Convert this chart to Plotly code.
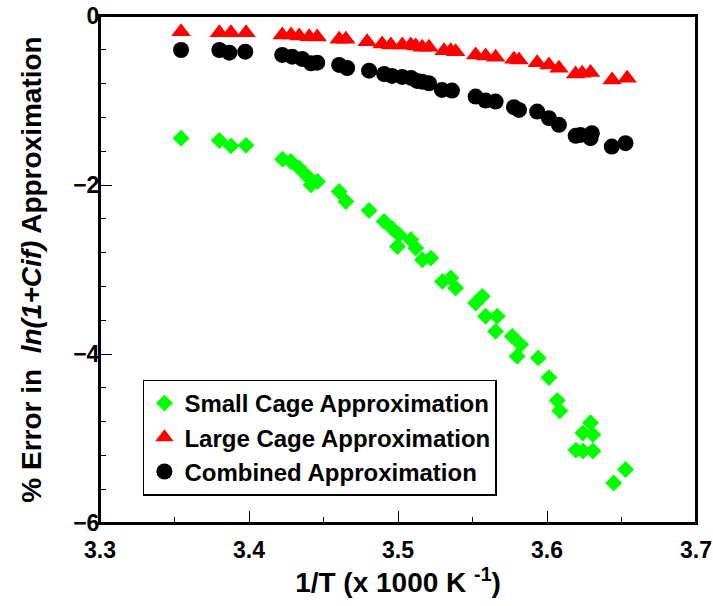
import plotly.graph_objects as go

# Small Cage Approximation (green diamonds)
small_x = [3.3544, 3.3801, 3.3879, 3.3980, 3.4225, 3.4281, 3.4337, 3.4393, 3.4416, 3.4460,
           3.4605, 3.4650, 3.4806, 3.4907, 3.4962, 3.5007, 3.4996, 3.5086, 3.5119, 3.5164,
           3.5220, 3.5298, 3.5354, 3.5387, 3.5521, 3.5566, 3.5588, 3.5666, 3.5655, 3.5767,
           3.5823, 3.5800, 3.5941, 3.6013, 3.6069, 3.6086, 3.6292, 3.6241, 3.6308, 3.6194,
           3.6241, 3.6308, 3.6527, 3.6448]
small_y = [-1.446, -1.474, -1.537, -1.531, -1.694, -1.722, -1.800, -1.900, -1.998, -1.959,
           -2.077, -2.195, -2.301, -2.431, -2.518, -2.589, -2.727, -2.648, -2.746, -2.884,
           -2.865, -3.141, -3.101, -3.219, -3.396, -3.318, -3.554, -3.554, -3.732, -3.791,
           -3.889, -4.027, -4.046, -4.279, -4.551, -4.673, -4.814, -4.935, -4.953, -5.137,
           -5.148, -5.148, -5.366, -5.526]

# Large Cage Approximation (red triangles)
large_x = [3.3544, 3.3801, 3.3879, 3.3980, 3.4223, 3.4282, 3.4337, 3.4404, 3.4458, 3.4605,
           3.4650, 3.4793, 3.4893, 3.4952, 3.5029, 3.5086, 3.5119, 3.5162, 3.5208, 3.5309,
           3.5354, 3.5387, 3.5521, 3.5588, 3.5655, 3.5778, 3.5812, 3.5934, 3.6013, 3.6080,
           3.6192, 3.6236, 3.6292, 3.6437, 3.6538]
large_y = [-0.186, -0.197, -0.197, -0.197, -0.225, -0.225, -0.236, -0.245, -0.248, -0.275,
           -0.275, -0.304, -0.331, -0.343, -0.343, -0.343, -0.355, -0.370, -0.370, -0.410,
           -0.410, -0.422, -0.461, -0.473, -0.488, -0.512, -0.520, -0.552, -0.579, -0.618,
           -0.686, -0.677, -0.670, -0.757, -0.736]

# Combined Approximation (black circles)
comb_x = [3.3544, 3.3801, 3.3868, 3.3975, 3.4223, 3.4290, 3.4357, 3.4416, 3.4458, 3.4605,
          3.4659, 3.4806, 3.4907, 3.4960, 3.5028, 3.5088, 3.5128, 3.5162, 3.5208, 3.5295,
          3.5362, 3.5521, 3.5588, 3.5655, 3.5778, 3.5812, 3.5934, 3.6013, 3.6080, 3.6192,
          3.6225, 3.6292, 3.6301, 3.6435, 3.6527]
comb_y = [-0.402, -0.402, -0.434, -0.422, -0.461, -0.481, -0.508, -0.559, -0.552, -0.579,
          -0.615, -0.647, -0.686, -0.709, -0.721, -0.733, -0.768, -0.777, -0.796, -0.875,
          -0.883, -0.954, -1.001, -1.013, -1.079, -1.111, -1.131, -1.209, -1.288, -1.418,
          -1.407, -1.446, -1.387, -1.545, -1.505]

series_names = ["Small Cage Approximation", "Large Cage Approximation", "Combined Approximation"]

FONT = "Liberation Sans, Arial, sans-serif"

fig = go.Figure()
fig.add_trace(go.Scatter(x=small_x, y=small_y, mode="markers", name=series_names[0],
                         marker=dict(symbol="diamond", size=13, color="#00FF00", line=dict(width=0))))
fig.add_trace(go.Scatter(x=large_x, y=large_y, mode="markers", name=series_names[1],
                         marker=dict(symbol="triangle-up", size=17, color="#FF0000", line=dict(width=0))))
fig.add_trace(go.Scatter(x=comb_x, y=comb_y, mode="markers", name=series_names[2],
                         marker=dict(symbol="circle", size=16, color="#000000", line=dict(width=0))))

# plot frame
fig.add_shape(type="rect", xref="paper", yref="paper", x0=0, x1=1, y0=0, y1=1,
              line=dict(color="black", width=2), layer="above")

fig.update_layout(
    template="none",
    width=713, height=606,
    margin=dict(l=100, r=17, t=16, b=83),
    paper_bgcolor="white", plot_bgcolor="white",
    font=dict(family=FONT, color="black", size=24, weight="bold"),
    showlegend=True,
    legend=dict(x=0.072, y=0.283, xanchor="left", yanchor="top",
                bgcolor="white", bordercolor="black", borderwidth=1.5,
                font=dict(family=FONT, size=24, color="black", weight="bold"),
                tracegroupgap=0, itemsizing="trace"),
    xaxis=dict(range=[3.3, 3.7], dtick=0.1, tick0=3.3, tickformat=".1f",
               showgrid=False, zeroline=False, automargin=False,
               showline=True, linecolor="black", linewidth=2, mirror=True,
               ticks="inside", ticklen=12, tickwidth=1, tickcolor="black",
               minor=dict(ticks="inside", ticklen=6, tickwidth=1, tickcolor="black", dtick=0.05, tick0=3.3),
               tickfont=dict(family=FONT, size=23, color="black", weight="bold"),
               ticklabelstandoff=5,
               title=dict(text="1/T (x 1000 K <sup>-1</sup>)", standoff=11,
                          font=dict(family=FONT, size=28, color="black", weight="bold"))),
    yaxis=dict(range=[-6, 0], dtick=2, tick0=0,
               showgrid=False, zeroline=False, automargin=False,
               showline=True, linecolor="black", linewidth=2, mirror=True,
               ticks="inside", ticklen=12, tickwidth=1, tickcolor="black",
               minor=dict(ticks="inside", ticklen=6, tickwidth=1, tickcolor="black", dtick=0.4, tick0=0),
               tickfont=dict(family=FONT, size=23, color="black", weight="bold"),
               ticklabelstandoff=-6,
               title=dict(text="% Error in \u00a0<i>ln(1+Cif)</i> Approximation", standoff=23,
                          font=dict(family=FONT, size=28, color="black", weight="bold"))),
)

fig.write_html("out.html", config={"displayModeBar": False},
               post_script="document.body.style.margin='0';")
